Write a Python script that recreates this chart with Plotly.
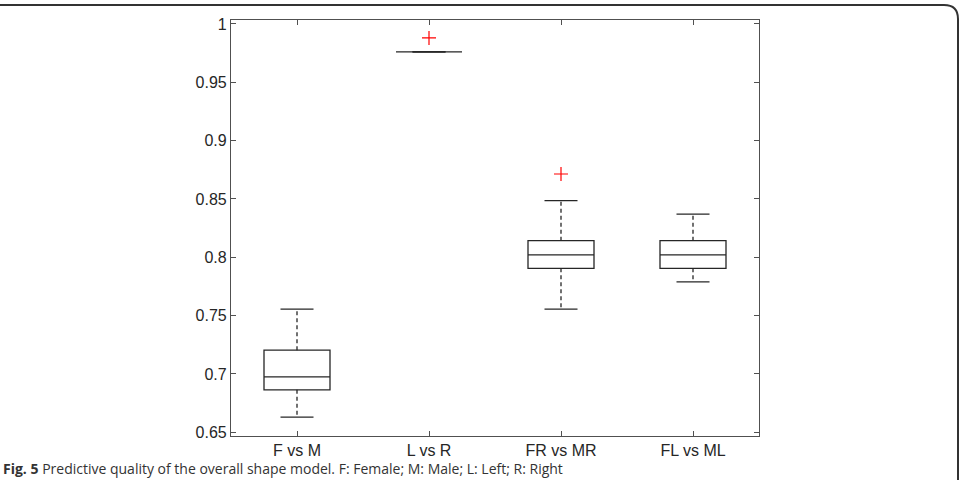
import plotly.graph_objects as go

# ---- data ----
categories = ["F vs M", "L vs R", "FR vs MR", "FL vs ML"]
lower_whisker = [0.6630, 0.9760, 0.7556, 0.7790]
q1_vals = [0.6864, 0.9760, 0.7905, 0.7905]
median_vals = [0.6975, 0.9760, 0.8021, 0.8021]
q3_vals = [0.7204, 0.9760, 0.8142, 0.8142]
upper_whisker = [0.7556, 0.9760, 0.8485, 0.8370]
outlier_cat = [2, 3]
outlier_vals = [0.988, 0.8714]
y_ticks = [0.65, 0.7, 0.75, 0.8, 0.85, 0.9, 0.95, 1.0]
y_ticktext = ["0.65", "0.7", "0.75", "0.8", "0.85", "0.9", "0.95", "1"]
caption_bold = "Fig. 5"
caption = "Predictive quality of the overall shape model. F: Female; M: Male; L: Left; R: Right"

# ---- layout constants ----
W, H = 963, 480
ML, MR, MT, MB = 231, 204, 20, 44
PW, PH = W - ML - MR, H - MT - MB
BOX_W = 0.5
CAP_W = 0.25
LINE_C = "#262626"
AXIS_C = "#505050"

pos = list(range(1, len(categories) + 1))

fig = go.Figure()

# boxes (no solid whiskers; whiskers drawn dashed below)
for i, p in enumerate(pos):
    fig.add_trace(go.Box(
        x=[p], q1=[q1_vals[i]], median=[median_vals[i]], q3=[q3_vals[i]],
        lowerfence=[q1_vals[i]], upperfence=[q3_vals[i]],
        width=BOX_W, whiskerwidth=0, boxpoints=False,
        fillcolor="rgba(0,0,0,0)", line=dict(color=LINE_C, width=1.3),
        hoverinfo="skip", showlegend=False,
    ))

# dashed whiskers
wx, wy = [], []
for i, p in enumerate(pos):
    if upper_whisker[i] > q3_vals[i]:
        wx += [p, p, None]
        wy += [q3_vals[i], upper_whisker[i], None]
    if lower_whisker[i] < q1_vals[i]:
        wx += [p, p, None]
        wy += [q1_vals[i], lower_whisker[i], None]
fig.add_trace(go.Scatter(x=wx, y=wy, mode="lines",
                         line=dict(color=LINE_C, width=1.3, dash="4px,3px"),
                         hoverinfo="skip", showlegend=False))

# whisker caps
cx, cy = [], []
for i, p in enumerate(pos):
    for v in (upper_whisker[i], lower_whisker[i]):
        cx += [p - CAP_W / 2, p + CAP_W / 2, None]
        cy += [v, v, None]
fig.add_trace(go.Scatter(x=cx, y=cy, mode="lines",
                         line=dict(color=LINE_C, width=1.3),
                         hoverinfo="skip", showlegend=False))

# outliers
fig.add_trace(go.Scatter(x=outlier_cat, y=outlier_vals, mode="markers",
                         marker=dict(symbol="cross-thin", size=10,
                                     line=dict(color="#ff0000", width=1.2)),
                         hoverinfo="skip", showlegend=False))

tick_font = dict(family="Liberation Sans, Arial, sans-serif", size=16, color="#262626")

fig.update_xaxes(range=[0.5, 4.5], tickvals=pos, ticktext=categories,
                 ticks="inside", ticklen=5, tickcolor=AXIS_C, mirror="ticks",
                 showline=True, linecolor=AXIS_C, linewidth=1.2,
                 showgrid=False, zeroline=False, tickfont=tick_font)
fig.update_yaxes(range=[0.6468, 1.0034], tickvals=y_ticks, ticktext=y_ticktext,
                 ticks="inside", ticklen=5, tickcolor=AXIS_C, mirror="ticks",
                 showline=True, linecolor=AXIS_C, linewidth=1.2,
                 showgrid=False, zeroline=False, tickfont=tick_font)

def px_x(x):
    return (x - ML) / PW

def px_y(y):
    return (H - MB - y) / PH

# outer rounded frame (top and right edges visible)
r = 14
frame_path = (
    f"M {px_x(-5)},{px_y(5)} L {px_x(958 - r)},{px_y(5)} "
    f"Q {px_x(958)},{px_y(5)} {px_x(958)},{px_y(5 + r)} "
    f"L {px_x(958)},{px_y(495)}"
)
fig.add_shape(type="path", path=frame_path, xref="paper", yref="paper",
              line=dict(color="#333333", width=2))

fig.add_annotation(
    text=f"<b>{caption_bold}</b> {caption}",
    xref="paper", yref="paper", x=px_x(1), y=px_y(480),
    xanchor="left", yanchor="bottom", showarrow=False,
    font=dict(family="Open Sans, Noto Sans, sans-serif", size=14, color="#333333"),
)

fig.update_layout(
    width=W, height=H,
    margin=dict(l=ML, r=MR, t=MT, b=MB),
    paper_bgcolor="white", plot_bgcolor="white",
    showlegend=False,
)

fig.write_html("out.html")
